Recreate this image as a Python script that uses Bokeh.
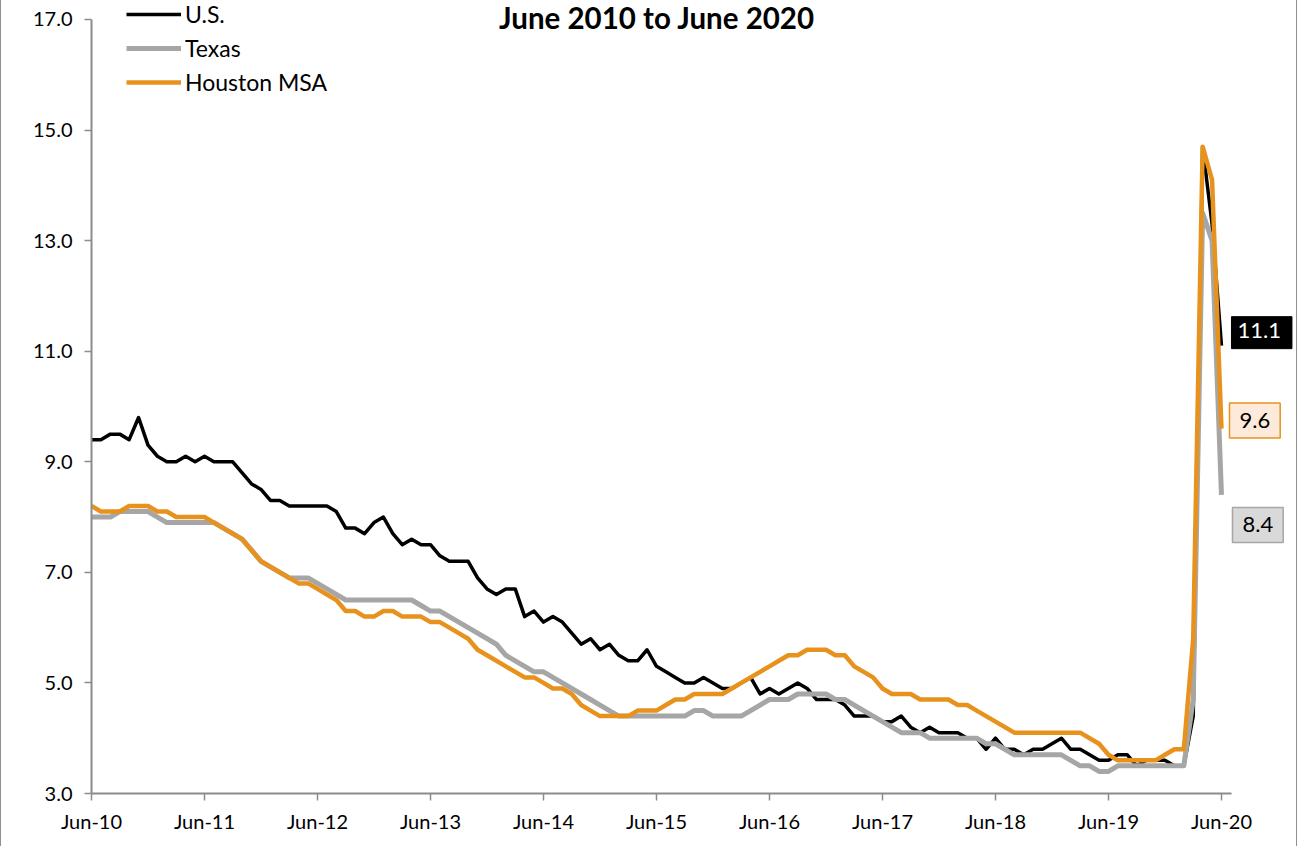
from bokeh.plotting import figure
from bokeh.models import (Range1d, FixedTicker, Legend, LegendItem, Label)
from bokeh.embed import file_html
from bokeh.resources import INLINE

# ---- data (monthly, Jun-2010 .. Jun-2020) ----
us = [9.4, 9.4, 9.5, 9.5, 9.4, 9.8, 9.3,
      9.1, 9.0, 9.0, 9.1, 9.0, 9.1, 9.0, 9.0, 9.0, 8.8, 8.6, 8.5,
      8.3, 8.3, 8.2, 8.2, 8.2, 8.2, 8.2, 8.1, 7.8, 7.8, 7.7, 7.9,
      8.0, 7.7, 7.5, 7.6, 7.5, 7.5, 7.3, 7.2, 7.2, 7.2, 6.9, 6.7,
      6.6, 6.7, 6.7, 6.2, 6.3, 6.1, 6.2, 6.1, 5.9, 5.7, 5.8, 5.6,
      5.7, 5.5, 5.4, 5.4, 5.6, 5.3, 5.2, 5.1, 5.0, 5.0, 5.1, 5.0,
      4.9, 4.9, 5.0, 5.1, 4.8, 4.9, 4.8, 4.9, 5.0, 4.9, 4.7, 4.7,
      4.7, 4.6, 4.4, 4.4, 4.4, 4.3, 4.3, 4.4, 4.2, 4.1, 4.2, 4.1,
      4.1, 4.1, 4.0, 4.0, 3.8, 4.0, 3.8, 3.8, 3.7, 3.8, 3.8, 3.9,
      4.0, 3.8, 3.8, 3.7, 3.6, 3.6, 3.7, 3.7, 3.5, 3.6, 3.6, 3.6,
      3.5, 3.5, 4.4, 14.7, 13.3, 11.1]

texas = [8.0, 8.0, 8.0, 8.1, 8.1, 8.1, 8.1, 8.0, 7.9, 7.9, 7.9, 7.9, 7.9,
         7.9, 7.8, 7.7, 7.6, 7.4, 7.2, 7.1, 7.0, 6.9, 6.9, 6.9, 6.8,
         6.7, 6.6, 6.5, 6.5, 6.5, 6.5, 6.5, 6.5, 6.5, 6.5, 6.4, 6.3,
         6.3, 6.2, 6.1, 6.0, 5.9, 5.8, 5.7, 5.5, 5.4, 5.3, 5.2, 5.2,
         5.1, 5.0, 4.9, 4.8, 4.7, 4.6, 4.5, 4.4, 4.4, 4.4, 4.4, 4.4,
         4.4, 4.4, 4.4, 4.5, 4.5, 4.4, 4.4, 4.4, 4.4, 4.5, 4.6, 4.7,
         4.7, 4.7, 4.8, 4.8, 4.8, 4.8, 4.7, 4.7, 4.6, 4.5, 4.4, 4.3,
         4.2, 4.1, 4.1, 4.1, 4.0, 4.0, 4.0, 4.0, 4.0, 4.0, 3.9, 3.9,
         3.8, 3.7, 3.7, 3.7, 3.7, 3.7, 3.7, 3.6, 3.5, 3.5, 3.4, 3.4,
         3.5, 3.5, 3.5, 3.5, 3.5, 3.5, 3.5, 3.5, 4.7, 13.5, 13.0, 8.4]

houston = [8.2, 8.1, 8.1, 8.1, 8.2, 8.2, 8.2, 8.1, 8.1, 8.0, 8.0, 8.0, 8.0,
           7.9, 7.8, 7.7, 7.6, 7.4, 7.2, 7.1, 7.0, 6.9, 6.8, 6.8, 6.7,
           6.6, 6.5, 6.3, 6.3, 6.2, 6.2, 6.3, 6.3, 6.2, 6.2, 6.2, 6.1,
           6.1, 6.0, 5.9, 5.8, 5.6, 5.5, 5.4, 5.3, 5.2, 5.1, 5.1, 5.0,
           4.9, 4.9, 4.8, 4.6, 4.5, 4.4, 4.4, 4.4, 4.4, 4.5, 4.5, 4.5,
           4.6, 4.7, 4.7, 4.8, 4.8, 4.8, 4.8, 4.9, 5.0, 5.1, 5.2, 5.3,
           5.4, 5.5, 5.5, 5.6, 5.6, 5.6, 5.5, 5.5, 5.3, 5.2, 5.1, 4.9,
           4.8, 4.8, 4.8, 4.7, 4.7, 4.7, 4.7, 4.6, 4.6, 4.5, 4.4, 4.3,
           4.2, 4.1, 4.1, 4.1, 4.1, 4.1, 4.1, 4.1, 4.1, 4.0, 3.9, 3.7,
           3.6, 3.6, 3.6, 3.6, 3.6, 3.7, 3.8, 3.8, 5.8, 14.7, 14.1, 9.6]

tick_labels = ["Jun-10", "Jun-11", "Jun-12", "Jun-13", "Jun-14", "Jun-15",
               "Jun-16", "Jun-17", "Jun-18", "Jun-19", "Jun-20"]
y_ticks = [3, 5, 7, 9, 11, 13, 15, 17]
series_names = ["U.S.", "Texas", "Houston MSA"]
title_text = "June 2010 to June 2020"

months = list(range(len(us)))
tick_pos = [12 * k for k in range(len(tick_labels))]

FONT = "Lato"
BLACK = "#000000"
GRAY = "#A6A6A6"
ORANGE = "#E8921E"
AXIS = "#8C8C8C"

W, H = 1297, 846
p = figure(width=W, height=H, output_backend="svg", toolbar_location=None,
           x_range=Range1d(0, 128.18), y_range=Range1d(3, 17.343),
           min_border_left=90, min_border_right=0, min_border_top=0,
           min_border_bottom=53)
p.styles = {"border-left": "1px solid #8f8f8f", "border-right": "1px solid #8f8f8f"}
p.outline_line_color = None
p.xgrid.visible = False
p.ygrid.visible = False
p.background_fill_color = "white"
p.border_fill_color = "white"

r_us = p.line(months, us, line_color=BLACK, line_width=3.5, line_join="round")
r_tx = p.line(months, texas, line_color=GRAY, line_width=5, line_join="round")
r_hou = p.line(months, houston, line_color=ORANGE, line_width=4.5, line_join="round")

# axes
xa = p.xaxis[0]
xa.ticker = FixedTicker(ticks=tick_pos)
xa.major_label_overrides = {t: l for t, l in zip(tick_pos, tick_labels)}
xa.bounds = (0, 121.1)
ya = p.yaxis[0]
ya.ticker = FixedTicker(ticks=y_ticks)
ya.major_label_overrides = {t: f"{t:.1f}" for t in y_ticks}
ya.bounds = (3, 17)
for ax in (xa, ya):
    ax.axis_line_color = AXIS
    ax.axis_line_width = 2
    ax.major_tick_line_color = AXIS
    ax.major_tick_line_width = 1.5
    ax.major_tick_in = 0
    ax.major_tick_out = 7
    ax.minor_tick_line_color = None
    ax.major_label_text_font = FONT
    ax.major_label_text_font_size = "20px"
    ax.major_label_text_color = "#000000"
xa.major_label_standoff = 8
ya.major_label_standoff = 12

# legend
legend = Legend(items=[LegendItem(label=series_names[0], renderers=[r_us]),
                       LegendItem(label=series_names[1], renderers=[r_tx]),
                       LegendItem(label=series_names[2], renderers=[r_hou])],
                location=(35, 697), orientation="vertical")
legend.padding = 0
legend.margin = 0
legend.spacing = 6
legend.glyph_width = 55
legend.glyph_height = 20
legend.label_height = 20
legend.label_standoff = 4
legend.label_text_font = FONT
legend.label_text_font_size = "23px"
legend.label_text_color = "#000000"
legend.border_line_color = None
legend.background_fill_alpha = 0
p.add_layout(legend)

# title
p.add_layout(Label(x=60.05, y=17.036, text=title_text, text_font=FONT,
                   text_font_size="29.5px", text_font_style="bold",
                   text_align="center", text_baseline="middle",
                   text_color="#000000"))

# end-point value labels
last = len(us) - 1
p.add_layout(Label(x=last, y=us[-1], text=f"{us[-1]:.1f}", x_offset=10, y_offset=13,
                   text_font=FONT, text_font_size="22px", text_color="white",
                   text_align="left", text_baseline="middle", padding=(6, 11, 6, 11),
                   background_fill_color="#000000", border_line_color="#000000"))
p.add_layout(Label(x=last, y=houston[-1], text=f"{houston[-1]:.1f}", x_offset=8, y_offset=8,
                   text_font=FONT, text_font_size="22px", text_color="#000000",
                   text_align="left", text_baseline="middle", padding=(10, 10, 10, 10),
                   background_fill_color="#FDEADA", border_line_color=ORANGE,
                   border_line_width=1.5))
p.add_layout(Label(x=last, y=texas[-1], text=f"{texas[-1]:.1f}", x_offset=11, y_offset=-30,
                   text_font=FONT, text_font_size="22px", text_color="#000000",
                   text_align="left", text_baseline="middle", padding=(10, 10, 10, 10),
                   background_fill_color="#D9D9D9", border_line_color=GRAY,
                   border_line_width=1.5))

open("out.html", "w").write(file_html(p, INLINE))
